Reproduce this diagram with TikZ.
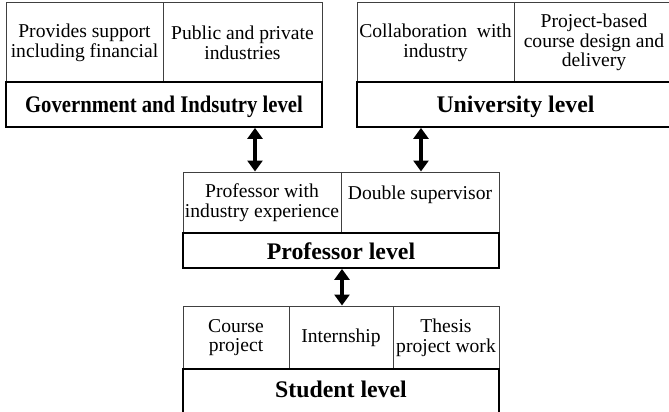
\documentclass[tikz,border=0pt]{standalone}
\usepackage{fontspec}
\setmainfont{Liberation Serif}
\usetikzlibrary{arrows.meta}
\tikzset{
  cell/.style={draw=black!75, line width=1pt, rectangle, inner sep=0pt, align=center,
    font=\fontsize{19.6}{19.8}\selectfont},
  band/.style={draw=black, line width=1.8pt, rectangle, inner sep=0pt, align=center,
    font=\fontsize{23.8}{24}\selectfont\bfseries},
  lbl/.style={inner sep=0pt, font=\fontsize{23.8}{24}\selectfont\bfseries},
  dbl/.style={line width=4.8pt, {Triangle[width=15pt,length=11pt]}-{Triangle[width=15pt,length=11pt]}}
}
\begin{document}
\begin{tikzpicture}[x=1pt,y=-1pt]
\useasboundingbox (0,0) rectangle (669,412);
\clip (0,0) rectangle (669,412);
% Government and industry
\node[cell, minimum width=157pt, minimum height=79pt] (g1) at (84.5,42.5) {Provides support\\including financial};
\node[cell, minimum width=159pt, minimum height=79pt] (g2) at (242.5,42.5) {Public and private\\industries};
\node[band, minimum width=316pt, minimum height=45pt] (gb) at (164,104.5) {};
\node[lbl] (gl) at (164,107) {\scalebox{0.87}[1]{Government and Indsutry level}};
% University
\node[cell, minimum width=157pt, minimum height=79pt] (u1) at (435.5,42.5) {Collaboration\ \ with\\industry};
\node[cell, minimum width=160pt, minimum height=79pt] (u2) at (594,42.5) {Project-based\\course design and\\delivery};
\node[band, minimum width=317pt, minimum height=45pt] (ub) at (515.5,104.5) {};
\node[lbl] (ul) at (515.5,107) {University level};
% Professor
\node[cell, minimum width=158pt, minimum height=61pt] (p1) at (262,202.5) {Professor with\\industry experience};
\node[cell, minimum width=158pt, minimum height=61pt] (p2) at (420,202.5) {Double supervisor\\\mbox{}};
\node[band, minimum width=316pt, minimum height=35pt] (pb) at (341,250.5) {};
\node[lbl] (pl) at (341,251.5) {Professor level};
% Student
\node[cell, minimum width=106pt, minimum height=63pt] (s1) at (236,337.5) {Course\\project};
\node[cell, minimum width=104pt, minimum height=63pt] (s2) at (341,337.5) {Internship};
\node[cell, minimum width=106pt, minimum height=63pt] (s3) at (446,337.5) {Thesis\\project work};
\node[band, minimum width=316pt, minimum height=60pt] (sb) at (341,399) {};
\node[lbl] (sl) at (341,389) {Student level};
% connectors
\coordinate (xa) at (255,0);
\coordinate (xb) at (421,0);
\coordinate (xc) at (342,0);
\draw[dbl] (gb.south -| xa) -- (p1.north -| xa);
\draw[dbl] (ub.south -| xb) -- (p2.north -| xb);
\draw[dbl] (pb.south -| xc) -- (s2.north -| xc);
\end{tikzpicture}
\end{document}
